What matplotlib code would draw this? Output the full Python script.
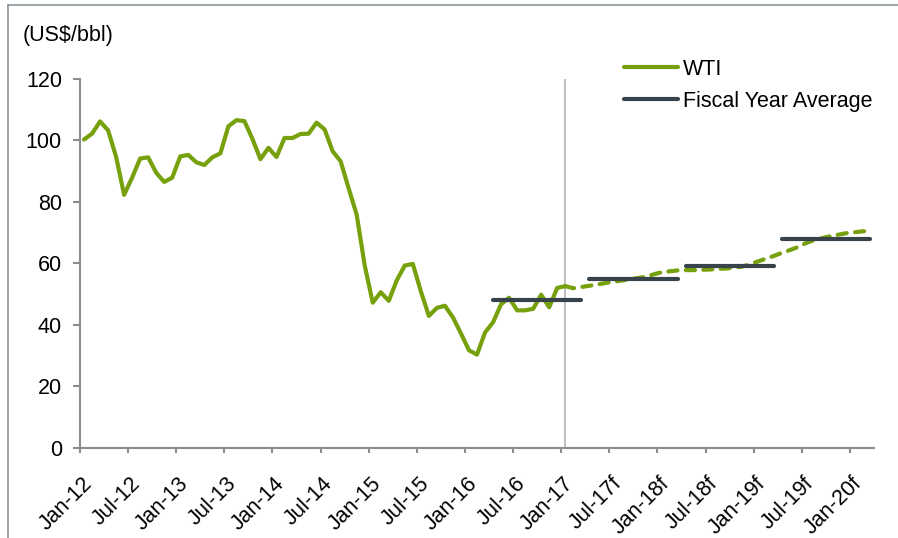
import matplotlib
matplotlib.use("Agg")
import matplotlib.pyplot as plt
from matplotlib.lines import Line2D
from matplotlib.transforms import ScaledTranslation

plt.rcParams['font.family'] = ['Liberation Sans', 'DejaVu Sans']

# ---- categories (months Jan-12 .. Mar-20) ----
mon_names = ['Jan', 'Feb', 'Mar', 'Apr', 'May', 'Jun', 'Jul', 'Aug', 'Sep', 'Oct', 'Nov', 'Dec']
months = [f"{m}-{y:02d}" for y in range(12, 21) for m in mon_names]
months = months[:months.index('Mar-20') + 1]

tick_labels = ['Jan-12', 'Jul-12', 'Jan-13', 'Jul-13', 'Jan-14', 'Jul-14', 'Jan-15', 'Jul-15',
               'Jan-16', 'Jul-16', 'Jan-17', 'Jul-17f', 'Jan-18f', 'Jul-18f', 'Jan-19f',
               'Jul-19f', 'Jan-20f']

# ---- WTI actual, Jan-12 .. Jan-17 ----
wti_actual = [
    100.3, 102.2, 106.2, 103.3, 94.7, 82.3, 87.9, 94.1, 94.5, 89.5, 86.5, 87.9,
    94.8, 95.3, 92.9, 92.0, 94.5, 95.8, 104.6, 106.6, 106.3, 100.5, 93.9, 97.6,
    94.6, 100.8, 100.8, 102.1, 102.2, 105.8, 103.6, 96.5, 93.2, 84.4, 75.8, 59.3,
    47.2, 50.6, 47.8, 54.5, 59.3, 59.8, 50.9, 42.9, 45.5, 46.2, 42.4, 37.2,
    31.7, 30.3, 37.5, 40.8, 46.7, 48.8, 44.7, 44.7, 45.2, 49.8, 45.7, 52.0,
    52.6,
]
# ---- WTI forecast, Feb-17 .. Mar-20 ----
wti_forecast = [
    51.9, 52.3, 52.7, 53.1, 53.6, 54.0, 54.4, 54.8, 55.2, 55.6, 56.4, 57.1,
    57.4, 57.7, 57.8, 57.8, 57.9, 58.0, 58.2, 58.3, 58.6, 58.9, 59.6, 60.6,
    61.5, 62.4, 63.4, 64.3, 65.3, 66.6, 67.5, 68.2, 68.8, 69.3, 69.8, 70.1,
    70.4, 70.6,
]

# ---- Fiscal year averages ----
fy_start = ['Apr-16', 'Apr-17', 'Apr-18', 'Apr-19']
fy_end = ['Mar-17', 'Mar-18', 'Mar-19', 'Mar-20']
fy_avg = [48, 55, 59, 68]

GREEN = '#76a00c'
DARK = '#37424a'
AXIS = '#8c8c8c'
FS = 15.5

fig = plt.figure(figsize=(8.98, 5.38), dpi=100)
ax = fig.add_axes([80 / 898, 1 - 447.7 / 538, (874 - 80) / 898, (447.7 - 79) / 538])

x_act = list(range(len(wti_actual)))
n0 = len(wti_actual) - 1
x_fc = list(range(n0, n0 + len(wti_forecast) + 1))
y_fc = [wti_actual[-1]] + wti_forecast

ax.axvline(months.index('Jan-17'), color='#c0c0c0', lw=1.5, zorder=1)
ax.plot(x_act, wti_actual, color=GREEN, lw=3.0, solid_joinstyle='round',
        solid_capstyle='round', zorder=3, label='WTI')
ax.plot(x_fc, y_fc, color=GREEN, lw=3.0, dashes=(2.2, 2.0), dash_capstyle='round',
        dash_joinstyle='round', zorder=3)
for i, (s, e, v) in enumerate(zip(fy_start, fy_end, fy_avg)):
    ax.plot([months.index(s), months.index(e)], [v, v], color=DARK, lw=3.0,
            solid_capstyle='round', zorder=4,
            label='Fiscal Year Average' if i == 0 else None)

ax.set_xlim(-0.5, len(months) - 0.5)
ax.set_ylim(0, 120)
ax.set_yticks(range(0, 121, 20))
ax.set_xticks([months.index(t.rstrip('f')) - 0.5 for t in tick_labels])
ax.set_xticklabels(tick_labels, rotation=45, ha='right', va='center',
                   rotation_mode='anchor')
for sp in ['top', 'right']:
    ax.spines[sp].set_visible(False)
for sp in ['left', 'bottom']:
    ax.spines[sp].set_color(AXIS)
    ax.spines[sp].set_linewidth(1.5)
    ax.spines[sp].set_zorder(2)
ax.tick_params(axis='y', colors=AXIS, length=5, width=1.5, pad=8, labelsize=FS,
               labelcolor='black')
ax.tick_params(axis='x', colors=AXIS, length=3.5, width=1.5, pad=20, labelsize=FS,
               labelcolor='black')
for lab in ax.get_xticklabels():
    lab.set_transform(lab.get_transform() + ScaledTranslation(9 / 100, 0, fig.dpi_scale_trans))

leg = ax.legend(loc='upper left', bbox_to_anchor=(624 / 898, 1 - 59 / 538),
                bbox_transform=fig.transFigure, frameon=False, fontsize=FS,
                handlelength=2.5, handletextpad=0.25, labelspacing=0.5,
                borderpad=0, borderaxespad=0)
fig.text(23 / 898, 1 - 36 / 538, '(US$/bbl)', fontsize=FS, va='center', ha='left')

# figure border (top and left)
fig.add_artist(Line2D([8 / 898, 1], [1 - 4.5 / 538, 1 - 4.5 / 538],
                      transform=fig.transFigure, color='#8a969c', lw=1.2))
fig.add_artist(Line2D([8 / 898, 8 / 898], [0, 1 - 4.5 / 538],
                      transform=fig.transFigure, color='#8a969c', lw=1.2))

fig.savefig('out.png', dpi=100)
